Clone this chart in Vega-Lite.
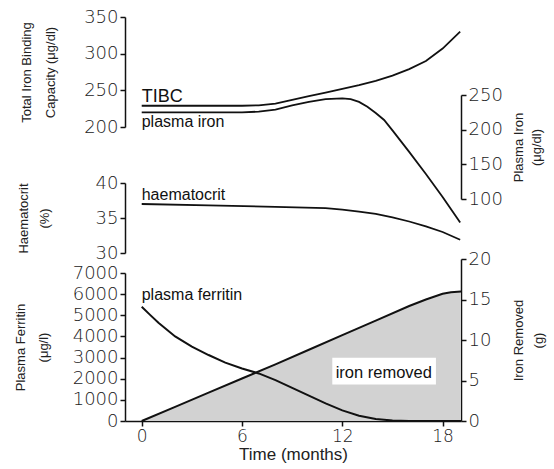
{
  "$schema": "https://vega.github.io/schema/vega-lite/v6.json",
  "width": 336,
  "height": 404,
  "autosize": {"type": "none"},
  "padding": {"left": 125, "top": 17, "right": 93, "bottom": 48},
  "background": "white",
  "config": {
    "view": {"stroke": null},
    "axis": {
      "grid": false,
      "domainColor": "#111",
      "domainWidth": 1.5,
      "tickColor": "#111",
      "tickWidth": 1.5,
      "tickSize": 5,
      "labelFont": "DejaVu Sans",
      "labelFontSize": 18,
      "labelFontWeight": 200,
      "labelColor": "#222",
      "labelPadding": 2,
      "titleFont": "Liberation Sans",
      "titleFontSize": 13,
      "titleFontWeight": "normal",
      "titleColor": "#222",
      "titleLineHeight": 21
    },
    "text": {"font": "Liberation Sans", "fontSize": 16, "color": "#111", "align": "left", "baseline": "alphabetic"}
  },
  "datasets": {
    "tibc": [
      {"month": 0, "tibc": 229}, {"month": 2, "tibc": 229}, {"month": 4, "tibc": 229}, {"month": 6, "tibc": 229},
      {"month": 7, "tibc": 229.5}, {"month": 8, "tibc": 232}, {"month": 9, "tibc": 237}, {"month": 10, "tibc": 242},
      {"month": 11, "tibc": 247}, {"month": 12, "tibc": 252}, {"month": 13, "tibc": 257}, {"month": 14, "tibc": 263},
      {"month": 15, "tibc": 270}, {"month": 16, "tibc": 279}, {"month": 17, "tibc": 290}, {"month": 18, "tibc": 307},
      {"month": 19.05, "tibc": 330}
    ],
    "plasmairon": [
      {"month": 0, "fe": 225}, {"month": 2, "fe": 225}, {"month": 4, "fe": 225}, {"month": 6, "fe": 225},
      {"month": 7, "fe": 226}, {"month": 8, "fe": 229}, {"month": 9, "fe": 235}, {"month": 10, "fe": 240},
      {"month": 11, "fe": 244}, {"month": 12, "fe": 245}, {"month": 12.5, "fe": 244}, {"month": 13, "fe": 240},
      {"month": 13.5, "fe": 233}, {"month": 14, "fe": 224}, {"month": 14.5, "fe": 214}, {"month": 15, "fe": 199},
      {"month": 16, "fe": 168}, {"month": 17, "fe": 136}, {"month": 18, "fe": 103}, {"month": 19.05, "fe": 66}
    ],
    "haematocrit": [
      {"month": 0, "hct": 37.0}, {"month": 4, "hct": 36.8}, {"month": 8, "hct": 36.6}, {"month": 11, "hct": 36.4},
      {"month": 12, "hct": 36.2}, {"month": 13, "hct": 35.9}, {"month": 14, "hct": 35.6}, {"month": 15, "hct": 35.1},
      {"month": 16, "hct": 34.5}, {"month": 17, "hct": 33.8}, {"month": 18, "hct": 33.0}, {"month": 19.05, "hct": 31.9}
    ],
    "ferritin": [
      {"month": 0, "ferritin": 5400}, {"month": 0.5, "ferritin": 5020}, {"month": 1, "ferritin": 4650}, {"month": 2, "ferritin": 4000},
      {"month": 3, "ferritin": 3520}, {"month": 4, "ferritin": 3120}, {"month": 5, "ferritin": 2760}, {"month": 6, "ferritin": 2480},
      {"month": 7, "ferritin": 2250}, {"month": 8, "ferritin": 1930}, {"month": 9, "ferritin": 1570}, {"month": 10, "ferritin": 1200},
      {"month": 11, "ferritin": 830}, {"month": 12, "ferritin": 500}, {"month": 13, "ferritin": 250}, {"month": 14, "ferritin": 90},
      {"month": 15, "ferritin": 20}, {"month": 16, "ferritin": 0}, {"month": 19.1, "ferritin": 0}
    ],
    "ironremoved": [
      {"month": 0, "g": 0}, {"month": 2, "g": 1.75}, {"month": 4, "g": 3.5}, {"month": 6, "g": 5.25},
      {"month": 8, "g": 7.0}, {"month": 10, "g": 8.8}, {"month": 12, "g": 10.6}, {"month": 14, "g": 12.4},
      {"month": 16, "g": 14.2}, {"month": 17, "g": 15.0}, {"month": 18, "g": 15.7}, {"month": 18.5, "g": 15.9},
      {"month": 19.1, "g": 16.0}
    ]
  },
  "encoding": {
    "x": {
      "field": "month",
      "type": "quantitative",
      "scale": {"domain": [-1, 19.1], "nice": false, "zero": false},
      "axis": {
        "orient": "bottom",
        "values": [0, 6, 12, 18],
        "title": "Time (months)",
        "titleFontSize": 17,
        "titlePadding": 2,
        "labelFontSize": 17,
        "labelFlush": false
      }
    }
  },
  "layer": [
    {
      "encoding": {
        "y": {
          "field": "g", "type": "quantitative", "stack": null,
          "scale": {"domain": [0, 20], "range": [404, 242], "nice": false, "zero": false},
          "axis": {"orient": "right", "values": [0, 5, 10, 15, 20], "title": ["Iron Removed", "(g)"], "titleAngle": 270, "titleBaseline": "top", "titleX": 51, "titleY": 323, "titleLineHeight": 20}
        }
      },
      "layer": [
        {
          "data": {"name": "ironremoved"},
          "mark": {"type": "area", "color": "#d2d2d2", "opacity": 1, "line": {"color": "#111", "strokeWidth": 2}}
        },
        {
          "data": {"values": [{"month": 11.4, "month2": 17.6, "g": 7.8, "g2": 4.5}]},
          "mark": {"type": "rect", "color": "white", "opacity": 1},
          "encoding": {"x2": {"field": "month2"}, "y2": {"field": "g2"}}
        },
        {
          "data": {"values": [{"month": 11.6, "g": 5.3, "label": "iron removed"}]},
          "mark": {"type": "text", "fontSize": 16.5},
          "encoding": {"text": {"field": "label"}}
        }
      ]
    },
    {
      "encoding": {
        "y": {
          "field": "ferritin", "type": "quantitative",
          "scale": {"domain": [0, 7000], "range": [404, 256], "nice": false, "zero": false},
          "axis": {"orient": "left", "format": "d", "values": [0, 1000, 2000, 3000, 4000, 5000, 6000, 7000], "title": ["Plasma Ferritin", "(μg/l)"], "titlePadding": 22, "titleLineHeight": 23}
        }
      },
      "layer": [
        {
          "data": {"name": "ferritin"},
          "mark": {"type": "line", "color": "#111", "strokeWidth": 2}
        },
        {
          "data": {"values": [{"month": 0, "ferritin": 5724, "label": "plasma ferritin"}]},
          "mark": {"type": "text"},
          "encoding": {"text": {"field": "label"}}
        }
      ]
    },
    {
      "encoding": {
        "y": {
          "field": "hct", "type": "quantitative",
          "scale": {"domain": [30, 40], "range": [236, 166], "nice": false, "zero": false},
          "axis": {"orient": "left", "values": [30, 35, 40], "title": ["Haematocrit", "(%)"], "titlePadding": 44, "titleLineHeight": 21}
        }
      },
      "layer": [
        {
          "data": {"name": "haematocrit"},
          "mark": {"type": "line", "color": "#111", "strokeWidth": 1.8}
        },
        {
          "data": {"values": [{"month": 0, "hct": 37.6, "label": "haematocrit"}]},
          "mark": {"type": "text"},
          "encoding": {"text": {"field": "label"}}
        }
      ]
    },
    {
      "encoding": {
        "y": {
          "field": "fe", "type": "quantitative",
          "scale": {"domain": [100, 250], "range": [182, 78], "nice": false, "zero": false},
          "axis": {"orient": "right", "values": [100, 150, 200, 250], "title": ["Plasma Iron", "(μg/dl)"], "titleAngle": 270, "titleBaseline": "top", "titleX": 51, "titleY": 130, "titleLineHeight": 18}
        }
      },
      "layer": [
        {
          "data": {"name": "plasmairon"},
          "mark": {"type": "line", "color": "#111", "strokeWidth": 1.8}
        },
        {
          "data": {"values": [{"month": 0, "fe": 204, "label": "plasma iron"}]},
          "mark": {"type": "text"},
          "encoding": {"text": {"field": "label"}}
        }
      ]
    },
    {
      "encoding": {
        "y": {
          "field": "tibc", "type": "quantitative",
          "scale": {"domain": [200, 350], "range": [110, 0], "nice": false, "zero": false},
          "axis": {"orient": "left", "values": [200, 250, 300, 350], "title": ["Total Iron Binding", "Capacity (μg/dl)"], "titlePadding": 26, "titleLineHeight": 24}
        }
      },
      "layer": [
        {
          "data": {"name": "tibc"},
          "mark": {"type": "line", "color": "#111", "strokeWidth": 1.8}
        },
        {
          "data": {"values": [{"month": 0, "tibc": 234, "label": "TIBC"}]},
          "mark": {"type": "text", "fontSize": 18},
          "encoding": {"text": {"field": "label"}}
        }
      ]
    }
  ],
  "resolve": {"scale": {"y": "independent"}, "axis": {"y": "independent"}}
}
